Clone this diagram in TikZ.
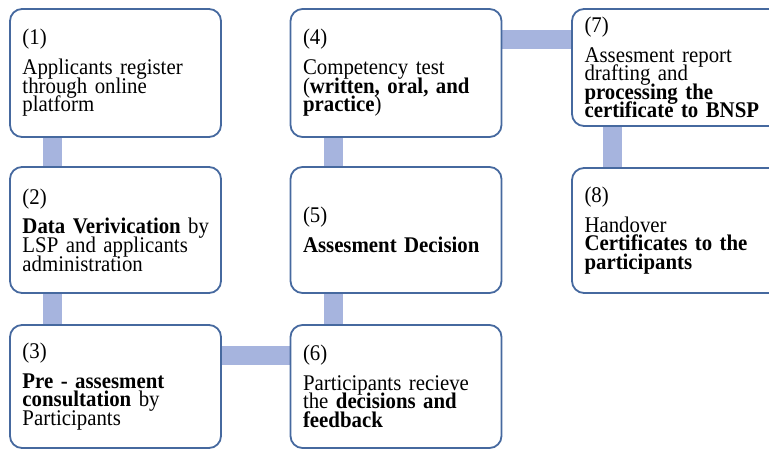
\documentclass[tikz,border=0pt]{standalone}
\usepackage{fontspec}
\setmainfont[FakeStretch=0.93]{Liberation Serif}
\usetikzlibrary{backgrounds}
\definecolor{boxline}{HTML}{46699F}
\definecolor{barcol}{HTML}{A6B4DE}
\newcommand\mytightlines{\lineskiplimit=-30pt\relax\lineskip=0pt\relax}
\tikzset{
  stepbox/.style={draw=boxline, line width=1.8pt, rounded corners=12pt, fill=white,
    minimum width=211pt, inner xsep=12.5pt, inner ysep=0pt, text width=186pt,
    align=left, font=\fontsize{22.4}{18.6}\selectfont,
    execute at begin node=\mytightlines},
  bar/.style={draw=barcol, line width=19pt}
}
\begin{document}
\begin{tikzpicture}[x=1pt,y=1pt]
\useasboundingbox (0,0) rectangle (769,-450);
\clip (0,0) rectangle (769,-450);
\node[stepbox, minimum height=128pt] (b1) at (115.5,-73)
  {(1)\\[11pt]\mbox{Applicants register}\\through online\\platform};
\node[stepbox, minimum height=126pt] (b2) at (115.5,-230)
  {(2)\\[11pt]\mbox{\textbf{Data Verivication} by}\\\mbox{LSP and applicants}\\administration};
\node[stepbox, minimum height=123pt] (b3) at (115.5,-386.5)
  {(3)\\[11pt]\mbox{\textbf{Pre - assesment}}\\\mbox{\textbf{consultation} by}\\Participants};
\node[stepbox, minimum height=128pt] (b4) at (396,-73)
  {(4)\\[11pt]\mbox{Competency test}\\\mbox{(\textbf{written, oral, and}}\\\textbf{practice})};
\node[stepbox, minimum height=126pt] (b5) at (396,-230)
  {(5)\\[11pt]\mbox{\textbf{Assesment Decision}}};
\node[stepbox, minimum height=123pt] (b6) at (396,-386.5)
  {(6)\\[11pt]\mbox{Participants recieve}\\\mbox{the \textbf{decisions and}}\\\textbf{feedback}};
\node[stepbox, minimum height=117pt] (b7) at (677.5,-67.5)
  {(7)\\[11pt]\mbox{Assesment report}\\\mbox{drafting and}\\\mbox{\textbf{processing the}}\\\mbox{\textbf{certificate to BNSP}}};
\node[stepbox, minimum height=125pt] (b8) at (677.5,-230.5)
  {(8)\\[11pt]Handover\\\mbox{\textbf{Certificates to the}}\\\textbf{participants}};
\begin{scope}[on background layer]
  \draw[bar] ([xshift=43pt]b1.south west) -- ([xshift=43pt]b2.north west);
  \draw[bar] ([xshift=43pt]b2.south west) -- ([xshift=43pt]b3.north west);
  \draw[bar] ([yshift=-31pt]b3.north east) -- ([yshift=-31pt]b6.north west);
  \draw[bar] ([xshift=44pt]b6.north west) -- ([xshift=44pt]b5.south west);
  \draw[bar] ([xshift=44pt]b5.north west) -- ([xshift=44pt]b4.south west);
  \draw[bar] ([yshift=-31pt]b4.north east) -- ([yshift=-31pt]b7.north west);
  \draw[bar] ([xshift=41pt]b7.south west) -- ([xshift=41pt]b8.north west);
\end{scope}
\end{tikzpicture}
\end{document}
